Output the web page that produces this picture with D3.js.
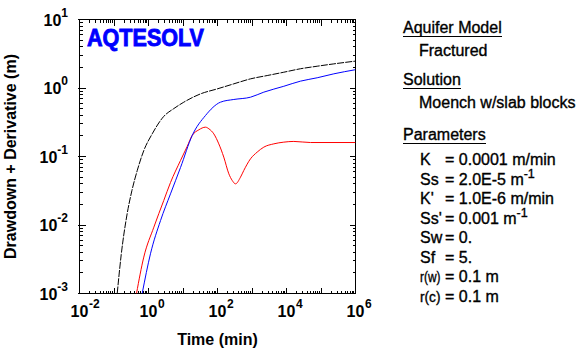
<!DOCTYPE html>
<html><head><meta charset="utf-8">
<script src="https://cdn.jsdelivr.net/npm/d3@7/dist/d3.min.js"></script>
<style>
html,body{margin:0;padding:0;background:#fff;}
svg{display:block;}
text{font-family:"Liberation Sans",Arial,sans-serif;}
</style></head><body>
<svg id="chart" width="587" height="350"></svg>
<script>
// ---- data ----
const drawdownTime  = [0.124, 0.162, 0.24, 0.33, 0.47, 0.73, 1.28, 2.77, 5.4, 10.5, 32, 98, 297, 905, 2760, 8350, 25500, 77600, 235000, 1e6];
const drawdownValue = [0.001, 0.0037, 0.0145, 0.0317, 0.062, 0.122, 0.214, 0.385, 0.50, 0.62, 0.82, 0.97, 1.15, 1.36, 1.52, 1.70, 1.91, 2.08, 2.25, 2.47];

const blueTime  = [0.656, 1.14, 2.23, 4.34, 8.47, 18.5, 44.9, 122, 297, 905, 2200, 8350, 25500, 77600, 235000, 1e6];
const blueValue = [0.001, 0.0038, 0.0116, 0.0285, 0.069, 0.203, 0.397, 0.621, 0.68, 0.734, 0.87, 1.06, 1.26, 1.41, 1.61, 1.85];

const derivTime  = [0.449, 0.73, 1.43, 2.77, 4.34, 8.47, 13.2, 18.5, 28.7, 44.9, 56.6, 78.2, 109, 152, 213, 267, 333, 464, 578, 905, 1415, 2200, 4290, 8350, 16300, 49700, 1e6];
const derivValue = [0.001, 0.0034, 0.0093, 0.0228, 0.0417, 0.0875, 0.14, 0.203, 0.245, 0.268, 0.253, 0.214, 0.153, 0.098, 0.0559, 0.0447, 0.0399, 0.0499, 0.0625, 0.0925, 0.116, 0.137, 0.153, 0.162, 0.166, 0.160, 0.160];

const xTickExponents = [-2, 0, 2, 4, 6];
const yTickExponents = [-3, -2, -1, 0, 1];

const xTitle = "Time (min)";
const yTitle = "Drawdown + Derivative (m)";
const logoText = "AQTESOLV";

const panelHeaders = ["Aquifer Model", "Solution", "Parameters"];
const panelEntries = ["Fractured", "Moench w/slab blocks"];
const paramNames  = ["K", "Ss", "K'", "Ss'", "Sw", "Sf", "r(w)", "r(c)"];
const paramValues = ["0.0001 m/min", "2.0E-5 m", "1.0E-6 m/min", "0.001 m", "0.", "5.", "0.1 m", "0.1 m"];
const paramSups   = ["", "-1", "", "-1", "", "", "", ""];

// ---- layout ----
const svg = d3.select("#chart");
const X0 = 79.5, X1 = 355.5, Y0 = 19.5, Y1 = 293.5;
const x = d3.scaleLog().domain([1e-2, 1e6]).range([X0, X1]);
const y = d3.scaleLog().domain([1e-3, 1e1]).range([Y1, Y0]);

svg.append("rect").attr("width", 587).attr("height", 350).attr("fill", "#fff");

svg.append("defs").append("clipPath").attr("id", "clip")
  .append("rect").attr("x", X0).attr("y", Y0).attr("width", X1 - X0).attr("height", Y1 - Y0);

// ticks
const tickG = svg.append("g").attr("stroke", "#000").attr("stroke-width", 1).attr("shape-rendering", "crispEdges");
const xMinor = [], yMinor = [];
for (let e = -2; e < 6; e++) for (let m = 2; m <= 9; m++) xMinor.push(m * Math.pow(10, e));
for (let e = -3; e < 1; e++) for (let m = 2; m <= 9; m++) yMinor.push(m * Math.pow(10, e));
const xMajor = d3.range(-2, 7).map(e => Math.pow(10, e));
const yMajor = d3.range(-3, 2).map(e => Math.pow(10, e));

function px(v) { return Math.round(x(v) - 0.5) + 0.5; }
function py(v) { return Math.round(y(v) - 0.5) + 0.5; }

xMinor.forEach(v => {
  tickG.append("line").attr("x1", px(v)).attr("x2", px(v)).attr("y1", Y1).attr("y2", Y1 - 3);
  tickG.append("line").attr("x1", px(v)).attr("x2", px(v)).attr("y1", Y0).attr("y2", Y0 + 3);
});
xMajor.forEach(v => {
  tickG.append("line").attr("x1", px(v)).attr("x2", px(v)).attr("y1", Y1).attr("y2", Y1 - 6);
  tickG.append("line").attr("x1", px(v)).attr("x2", px(v)).attr("y1", Y0).attr("y2", Y0 + 6);
});
yMinor.forEach(v => {
  tickG.append("line").attr("y1", py(v)).attr("y2", py(v)).attr("x1", X0).attr("x2", X0 + 3);
  tickG.append("line").attr("y1", py(v)).attr("y2", py(v)).attr("x1", X1).attr("x2", X1 - 3);
});
yMajor.forEach(v => {
  tickG.append("line").attr("y1", py(v)).attr("y2", py(v)).attr("x1", X0 - 2).attr("x2", X0 + 6);
  tickG.append("line").attr("y1", py(v)).attr("y2", py(v)).attr("x1", X1).attr("x2", X1 - 6);
});

// frame
svg.append("rect").attr("x", X0).attr("y", Y0).attr("width", X1 - X0).attr("height", Y1 - Y0)
  .attr("fill", "none").attr("stroke", "#000").attr("stroke-width", 1).attr("shape-rendering", "crispEdges");

// logo
svg.append("text").attr("x", 87).attr("y", 46).text(logoText)
  .attr("font-family", "'DejaVu Sans', sans-serif").attr("font-weight", "bold")
  .attr("font-size", 24).attr("fill", "#0000ff").attr("stroke", "#0000ff").attr("stroke-width", 0.9)
  .attr("textLength", 117).attr("lengthAdjust", "spacingAndGlyphs");

// curves
const line = d3.line().x(d => x(d[0])).y(d => y(d[1])).curve(d3.curveMonotoneX);
const curves = svg.append("g").attr("clip-path", "url(#clip)").attr("fill", "none").attr("stroke-width", 1);
curves.append("path").datum(d3.zip(derivTime, derivValue)).attr("d", line).attr("stroke", "#ff0000");
curves.append("path").datum(d3.zip(blueTime, blueValue)).attr("d", line).attr("stroke", "#0000ff");
curves.append("path").datum(d3.zip(drawdownTime, drawdownValue)).attr("d", line).attr("stroke", "#000")
  .attr("stroke-dasharray", "7,1.2");

// x tick labels
xTickExponents.forEach(e => {
  const cx = x(Math.pow(10, e));
  svg.append("text").attr("x", cx).attr("y", 317).attr("text-anchor", "middle")
    .attr("font-size", 16).attr("font-weight", "bold").text("10");
  svg.append("text").attr("x", cx + 9.5).attr("y", 308)
    .attr("font-size", 12).attr("font-weight", "bold").text(String(e));
});

// y tick labels
yTickExponents.forEach(e => {
  const cy = y(Math.pow(10, e));
  const t = svg.append("text").attr("x", 68).attr("y", cy + 6).attr("text-anchor", "end")
    .attr("font-weight", "bold");
  t.append("tspan").attr("font-size", 16).text("10");
  t.append("tspan").attr("font-size", 12).attr("dy", -9).text(String(e));
});

// axis titles
svg.append("text").attr("x", (X0 + X1) / 2).attr("y", 345).attr("text-anchor", "middle")
  .attr("font-size", 16).attr("font-weight", "bold").text(xTitle);
svg.append("text").attr("transform", `translate(16,${(Y0 + Y1) / 2}) rotate(-90)`)
  .attr("text-anchor", "middle").attr("font-size", 16).attr("font-weight", "bold").text(yTitle);

// right panel
const panel = svg.append("g").attr("font-size", 16).attr("fill", "#000")
  .attr("stroke", "#000").attr("stroke-width", 0.35);
function header(txt, yy) {
  const t = panel.append("text").attr("x", 403).attr("y", yy).text(txt);
  const w = t.node().getComputedTextLength();
  panel.append("line").attr("x1", 403).attr("x2", 403 + w).attr("y1", yy + 3.5).attr("y2", yy + 3.5)
    .attr("stroke", "#000").attr("stroke-width", 1).attr("shape-rendering", "crispEdges");
}
header(panelHeaders[0], 33);
panel.append("text").attr("x", 419).attr("y", 56).text(panelEntries[0]);
header(panelHeaders[1], 85);
panel.append("text").attr("x", 419).attr("y", 108).text(panelEntries[1]);
header(panelHeaders[2], 140);
paramNames.forEach((n, i) => {
  const yy = 165 + i * 19.5;
  const nt = panel.append("text").attr("x", 420).attr("y", yy).text(n);
  const w = nt.node().getComputedTextLength();
  if (w > 23) nt.attr("font-size", 14).attr("textLength", 20.5).attr("lengthAdjust", "spacingAndGlyphs");
  const t = panel.append("text").attr("x", 445).attr("y", yy);
  t.append("tspan").text("= " + paramValues[i]);
  if (paramSups[i]) t.append("tspan").attr("font-size", 12.5).attr("dy", -7).text(paramSups[i]);
});
</script>
</body></html>
